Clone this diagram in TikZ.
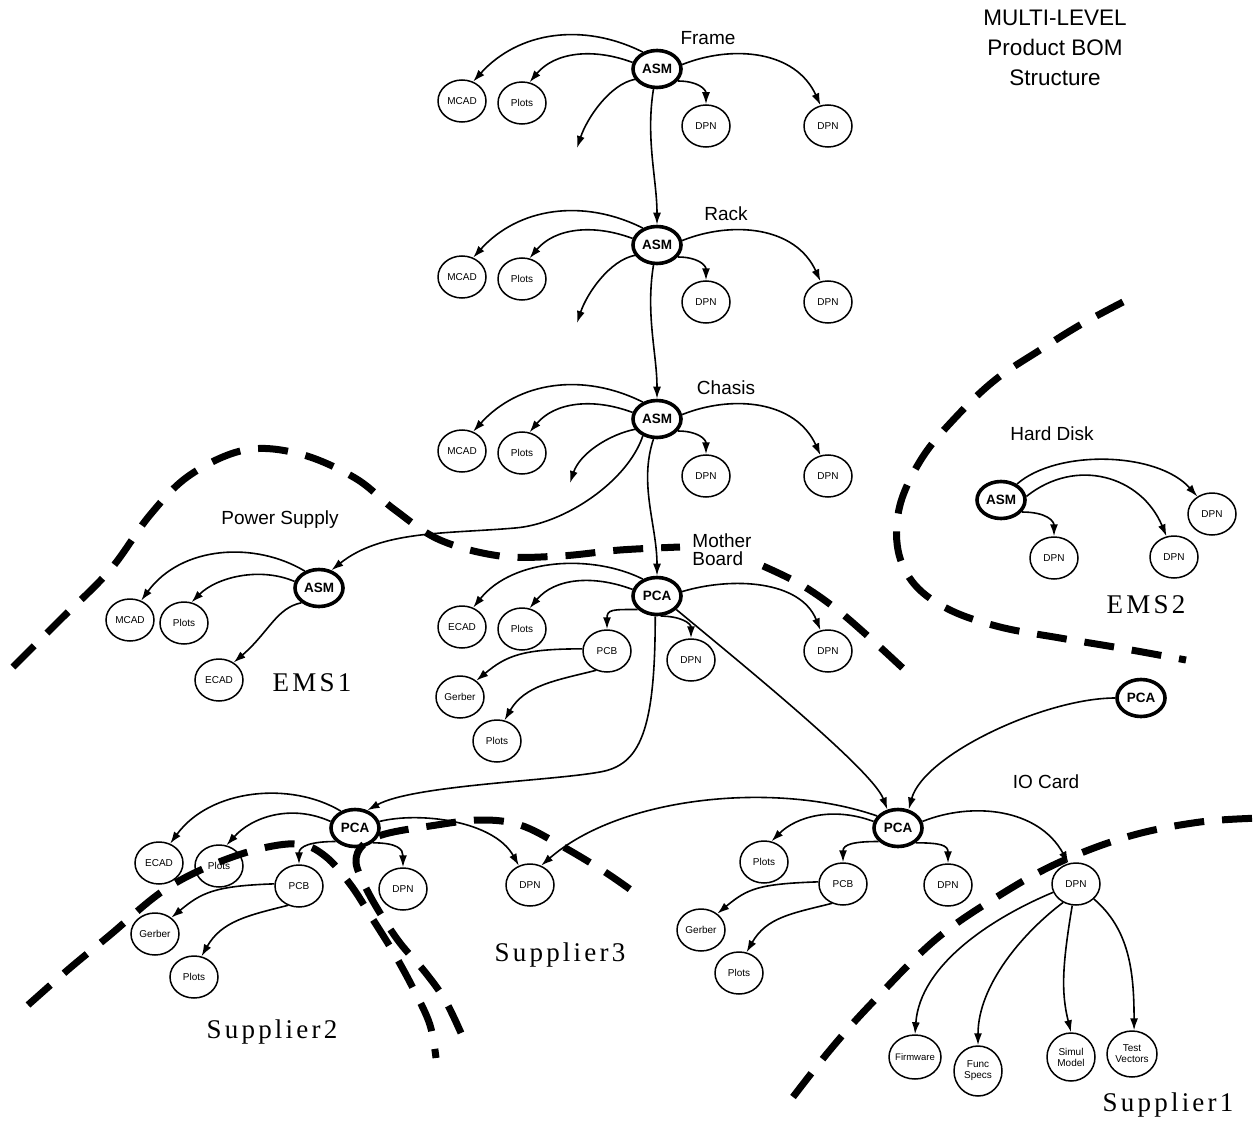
\documentclass[tikz,border=0pt]{standalone}
\usepackage{fontspec}
\setmainfont{Liberation Sans}
\newfontfamily\zonefont[LetterSpace=12]{Liberation Serif}
\usetikzlibrary{arrows.meta,shapes.geometric}
\begin{document}
\begin{tikzpicture}[x=1pt,y=-1pt,
  every node/.style={inner sep=0pt},
  leaf/.style={ellipse,draw,line width=1.5pt,minimum width=48pt,minimum height=42pt,
    font=\fontsize{10}{11}\selectfont,align=center},
  hub/.style={ellipse,draw,line width=3.6pt,minimum width=48pt,minimum height=37pt,
    font=\fontsize{13.5}{14}\selectfont\bfseries},
  arr/.style={line width=1.6pt,-{Latex[length=12pt,width=8pt]}},
  bound/.style={line width=7pt,dash pattern=on 30pt off 18pt},
  grp/.style={font=\fontsize{19}{18}\selectfont,align=left},
  zone/.style={font=\zonefont\fontsize{27}{30}\selectfont}
]
\useasboundingbox (0,0) rectangle (1260,1123);
\fill[white] (0,0) rectangle (1260,1123);

\node[font=\fontsize{22.5}{30}\selectfont,align=center] (title) at (1055,48) {MULTI-LEVEL\\Product BOM\\Structure};

% ---------- Frame / Rack / Chasis groups
\foreach \g/\dy/\lx/\lab/\dx/\dd in {a/0/708/Frame/577/79, b/176/726/Rack/577/78, c/350/726/Chasis/570/64}{
  \begin{scope}[shift={(0,\dy)}]
    \node[hub] (asm\g) at (657,69) {ASM};
    \node[grp] (lab\g) at (\lx,38) {\lab};
    \node[leaf] (mcad\g) at (462,101) {MCAD};
    \node[leaf] (plots\g) at (522,103) {Plots};
    \node[leaf] (dpnA\g) at (706,126) {DPN};
    \node[leaf] (dpnB\g) at (828,126) {DPN};
    \coordinate (dang\g) at (\dx,69+\dd);
    \draw[arr] (asm\g.130) .. controls +(-60,-30) and +(45,-50) .. (mcad\g.60);
    \draw[arr] (asm\g.165) .. controls +(-40,-15) and +(25,-30) .. (plots\g.70);
    \draw[arr] (asm\g.-30) .. controls +(20,0) and +(0,-15) .. (dpnA\g.north);
    \draw[arr] (asm\g.10) .. controls +(50,-20) and +(-25,-55) .. (dpnB\g.110);
    \draw[arr] (asm\g.205) .. controls +(-25,5) and +(10,-30) .. (dang\g);
  \end{scope}
}
\draw[arr] (asma.-100) .. controls +(-8,50) and +(0,-45) .. (asmb.north);
\draw[arr] (asmb.-100) .. controls +(-8,50) and +(0,-45) .. (asmc.north);

% ---------- Power supply
\node[hub] (psasm) at (319,588) {ASM};
\node[grp] (pslab) at (280,520) {Power Supply};
\node[leaf] (mcadps) at (130,620) {MCAD};
\node[leaf] (plotsps) at (184,623) {Plots};
\node[leaf] (ecadps) at (219,680) {ECAD};
\coordinate (psmid) at (515,528);
\draw[arr] (asmc.230) .. controls +(-15,45) and +(50,-4) .. (psmid)
   .. controls +(-70,6) and +(50,-40) .. (psasm.55);
\draw[arr] (psasm.130) .. controls +(-50,-30) and +(40,-55) .. (mcadps.60);
\draw[arr] (psasm.165) .. controls +(-35,-15) and +(25,-25) .. (plotsps.70);
\draw[arr] (psasm.220) .. controls +(-25,5) and +(35,-30) .. (ecadps.50);

% ---------- Mother board
\node[hub] (pcamb) at (657,596) {PCA};
\node[grp] (mblab) at (722,550) {Mother\\Board};
\node[leaf] (ecadmb) at (462,627) {ECAD};
\node[leaf] (plotsmb) at (522,629) {Plots};
\node[leaf] (pcbmb) at (607,651) {PCB};
\node[leaf] (dpnmb1) at (691,660) {DPN};
\node[leaf] (dpnmb2) at (828,651) {DPN};
\node[leaf] (gerbermb) at (460,697) {Gerber};
\node[leaf] (plotsmb2) at (497,741) {Plots};
\draw[arr] (asmc.-100) .. controls +(-15,45) and +(0,-50) .. (pcamb.north);
\draw[arr] (pcamb.130) .. controls +(-50,-25) and +(40,-50) .. (ecadmb.60);
\draw[arr] (pcamb.165) .. controls +(-40,-15) and +(25,-30) .. (plotsmb.70);
\draw[arr] (pcamb.215) .. controls +(-25,0) and +(0,-20) .. (pcbmb.north);
\draw[arr] (pcamb.-80) .. controls +(20,0) and +(0,-15) .. (dpnmb1.north);
\draw[arr] (pcamb.10) .. controls +(50,-15) and +(-20,-50) .. (dpnmb2.110);
\draw[arr] (pcbmb.175) .. controls +(-60,0) and +(30,-25) .. (gerbermb.45);
\draw[arr] (pcbmb.240) .. controls +(-40,10) and +(20,-35) .. (plotsmb2.70);

% ---------- Hard disk
\node[hub] (asmhd) at (1001,500) {ASM};
\node[grp] (hdlab) at (1052,434) {Hard Disk};
\node[leaf] (dpnhd1) at (1054,558) {DPN};
\node[leaf] (dpnhd2) at (1174,557) {DPN};
\node[leaf] (dpnhd3) at (1212,514) {DPN};
\draw[arr] (asmhd.45) .. controls +(40,-35) and +(-40,-45) .. (dpnhd3.130);
\draw[arr] (asmhd.8) .. controls +(50,-40) and +(-25,-60) .. (dpnhd2.110);
\draw[arr] (asmhd.-30) .. controls +(25,0) and +(0,-15) .. (dpnhd1.north);

% ---------- IO card
\node[hub] (pcax) at (1141,698) {PCA};
\node[grp] (iolab) at (1046,782) {IO Card};
\node[hub] (pcaio) at (898,828) {PCA};
\node[leaf] (plotsio) at (764,862) {Plots};
\node[leaf] (pcbio) at (843,884) {PCB};
\node[leaf] (dpnio1) at (948,885) {DPN};
\node[leaf] (dpnio2) at (1076,884) {DPN};
\node[leaf] (gerberio) at (701,930) {Gerber};
\node[leaf] (plotsio2) at (739,973) {Plots};
\node[leaf,inner xsep=-5pt,minimum width=52pt,minimum height=44pt,font=\fontsize{9.5}{11}\selectfont] (firmware) at (915,1057) {Firmware};
\node[leaf,minimum height=50pt] (funcspecs) at (978,1071) {Func\\Specs};
\node[leaf,minimum height=48pt] (simul) at (1071,1057) {Simul\\Model};
\node[leaf,minimum width=50pt,minimum height=46pt] (testvec) at (1132,1054) {Test\\Vectors};
\draw[arr] (pcax.180) .. controls +(-70,0) and +(15,-55) .. (pcaio.60);
\draw[arr] (pcamb.-35) .. controls +(60,50) and +(-15,-40) .. (pcaio.120);
\draw[arr] (pcaio.165) .. controls +(-40,-15) and +(25,-25) .. (plotsio.70);
\draw[arr] (pcaio.215) .. controls +(-25,0) and +(0,-18) .. (pcbio.north);
\draw[arr] (pcaio.-40) .. controls +(25,0) and +(0,-18) .. (dpnio1.north);
\draw[arr] (pcaio.15) .. controls +(50,-20) and +(-30,-55) .. (dpnio2.110);
\draw[arr] (pcbio.175) .. controls +(-60,2) and +(30,-25) .. (gerberio.45);
\draw[arr] (pcbio.240) .. controls +(-40,10) and +(20,-35) .. (plotsio2.70);
\draw[arr] (dpnio2.200) .. controls +(-60,25) and +(5,-70) .. (firmware.north);
\draw[arr] (dpnio2.235) .. controls +(-40,30) and +(0,-60) .. (funcspecs.north);
\draw[arr] (dpnio2.-100) .. controls +(-10,60) and +(-10,-40) .. (simul.north);
\draw[arr] (dpnio2.-40) .. controls +(35,30) and +(0,-60) .. (testvec.85);

% ---------- Supplier2 PCA
\node[hub] (pcas2) at (355,828) {PCA};
\node[leaf] (ecads2) at (159,863) {ECAD};
\node[leaf] (plotss2) at (219,866) {Plots};
\node[leaf] (pcbs2) at (299,886) {PCB};
\node[leaf] (dpns2) at (403,889) {DPN};
\node[leaf] (gerbers2) at (155,934) {Gerber};
\node[leaf] (plotss2b) at (194,977) {Plots};
\node[leaf] (dpns3) at (530,885) {DPN};
\coordinate (mbbend) at (600,772);
\draw[arr] (pcamb.-95) .. controls +(0,115) and +(40,-7) .. (mbbend)
   .. controls +(-50,9) and +(45,-25) .. (pcas2.55);
\draw[arr] (pcas2.130) .. controls +(-50,-30) and +(40,-55) .. (ecads2.60);
\draw[arr] (pcas2.165) .. controls +(-40,-18) and +(25,-28) .. (plotss2.70);
\draw[arr] (pcas2.215) .. controls +(-25,0) and +(0,-18) .. (pcbs2.north);
\draw[arr] (pcas2.-40) .. controls +(25,0) and +(0,-18) .. (dpns2.north);
\draw[arr] (pcas2.15) .. controls +(40,-10) and +(-25,-45) .. (dpns3.120);
\draw[arr] (pcaio.150) .. controls +(-100,-35) and +(80,-70) .. (dpns3.60);
\draw[arr] (pcbs2.175) .. controls +(-60,2) and +(30,-25) .. (gerbers2.45);
\draw[arr] (pcbs2.240) .. controls +(-40,10) and +(20,-35) .. (plotss2b.70);

% ---------- zone labels
\node[zone] (ems1) at (312,683) {EMS1};
\node[zone] (ems2) at (1146,605) {EMS2};
\node[zone] (sup3) at (560,955) {Supplier3};
\node[zone] (sup2) at (272,1032) {Supplier2};
\node[zone] (sup1) at (1168,1105) {Supplier1};

% ---------- boundaries
\draw[bound] plot[smooth,tension=0.6] coordinates {(13,667) (60,620) (110,570) (150,515) (190,475) (245,450) (300,454) (355,478) (395,510) (440,540) (500,556) (560,556) (620,550) (680,547)};
\draw[bound] plot[smooth,tension=0.6] coordinates {(763,566) (800,584) (835,608) (870,638) (908,673)};
\draw[bound] plot[smooth,tension=0.6] coordinates {(1123,302) (1080,325) (1040,350) (995,380) (955,418) (922,458) (900,505) (898,550) (915,585) (950,610) (1000,627) (1060,638) (1120,648) (1186,660)};
\draw[bound] plot[smooth,tension=0.6] coordinates {(793,1097) (830,1050) (870,1005) (935,940) (1000,895) (1060,862) (1130,836) (1200,822) (1262,818)};
\draw[bound] plot[smooth,tension=0.6] coordinates {(28,1005) (70,968) (110,935) (160,893) (205,868) (255,850) (298,844) (325,856) (350,884) (372,918) (395,955) (415,992) (430,1025) (436,1058)};
\draw[bound] plot[smooth,tension=0.6] coordinates {(461,1033) (445,1000) (425,972) (400,943) (380,913) (365,886) (356,862) (363,845) (385,834) (430,826) (480,820) (520,825) (560,845) (605,872) (642,898)};
\end{tikzpicture}
\end{document}
